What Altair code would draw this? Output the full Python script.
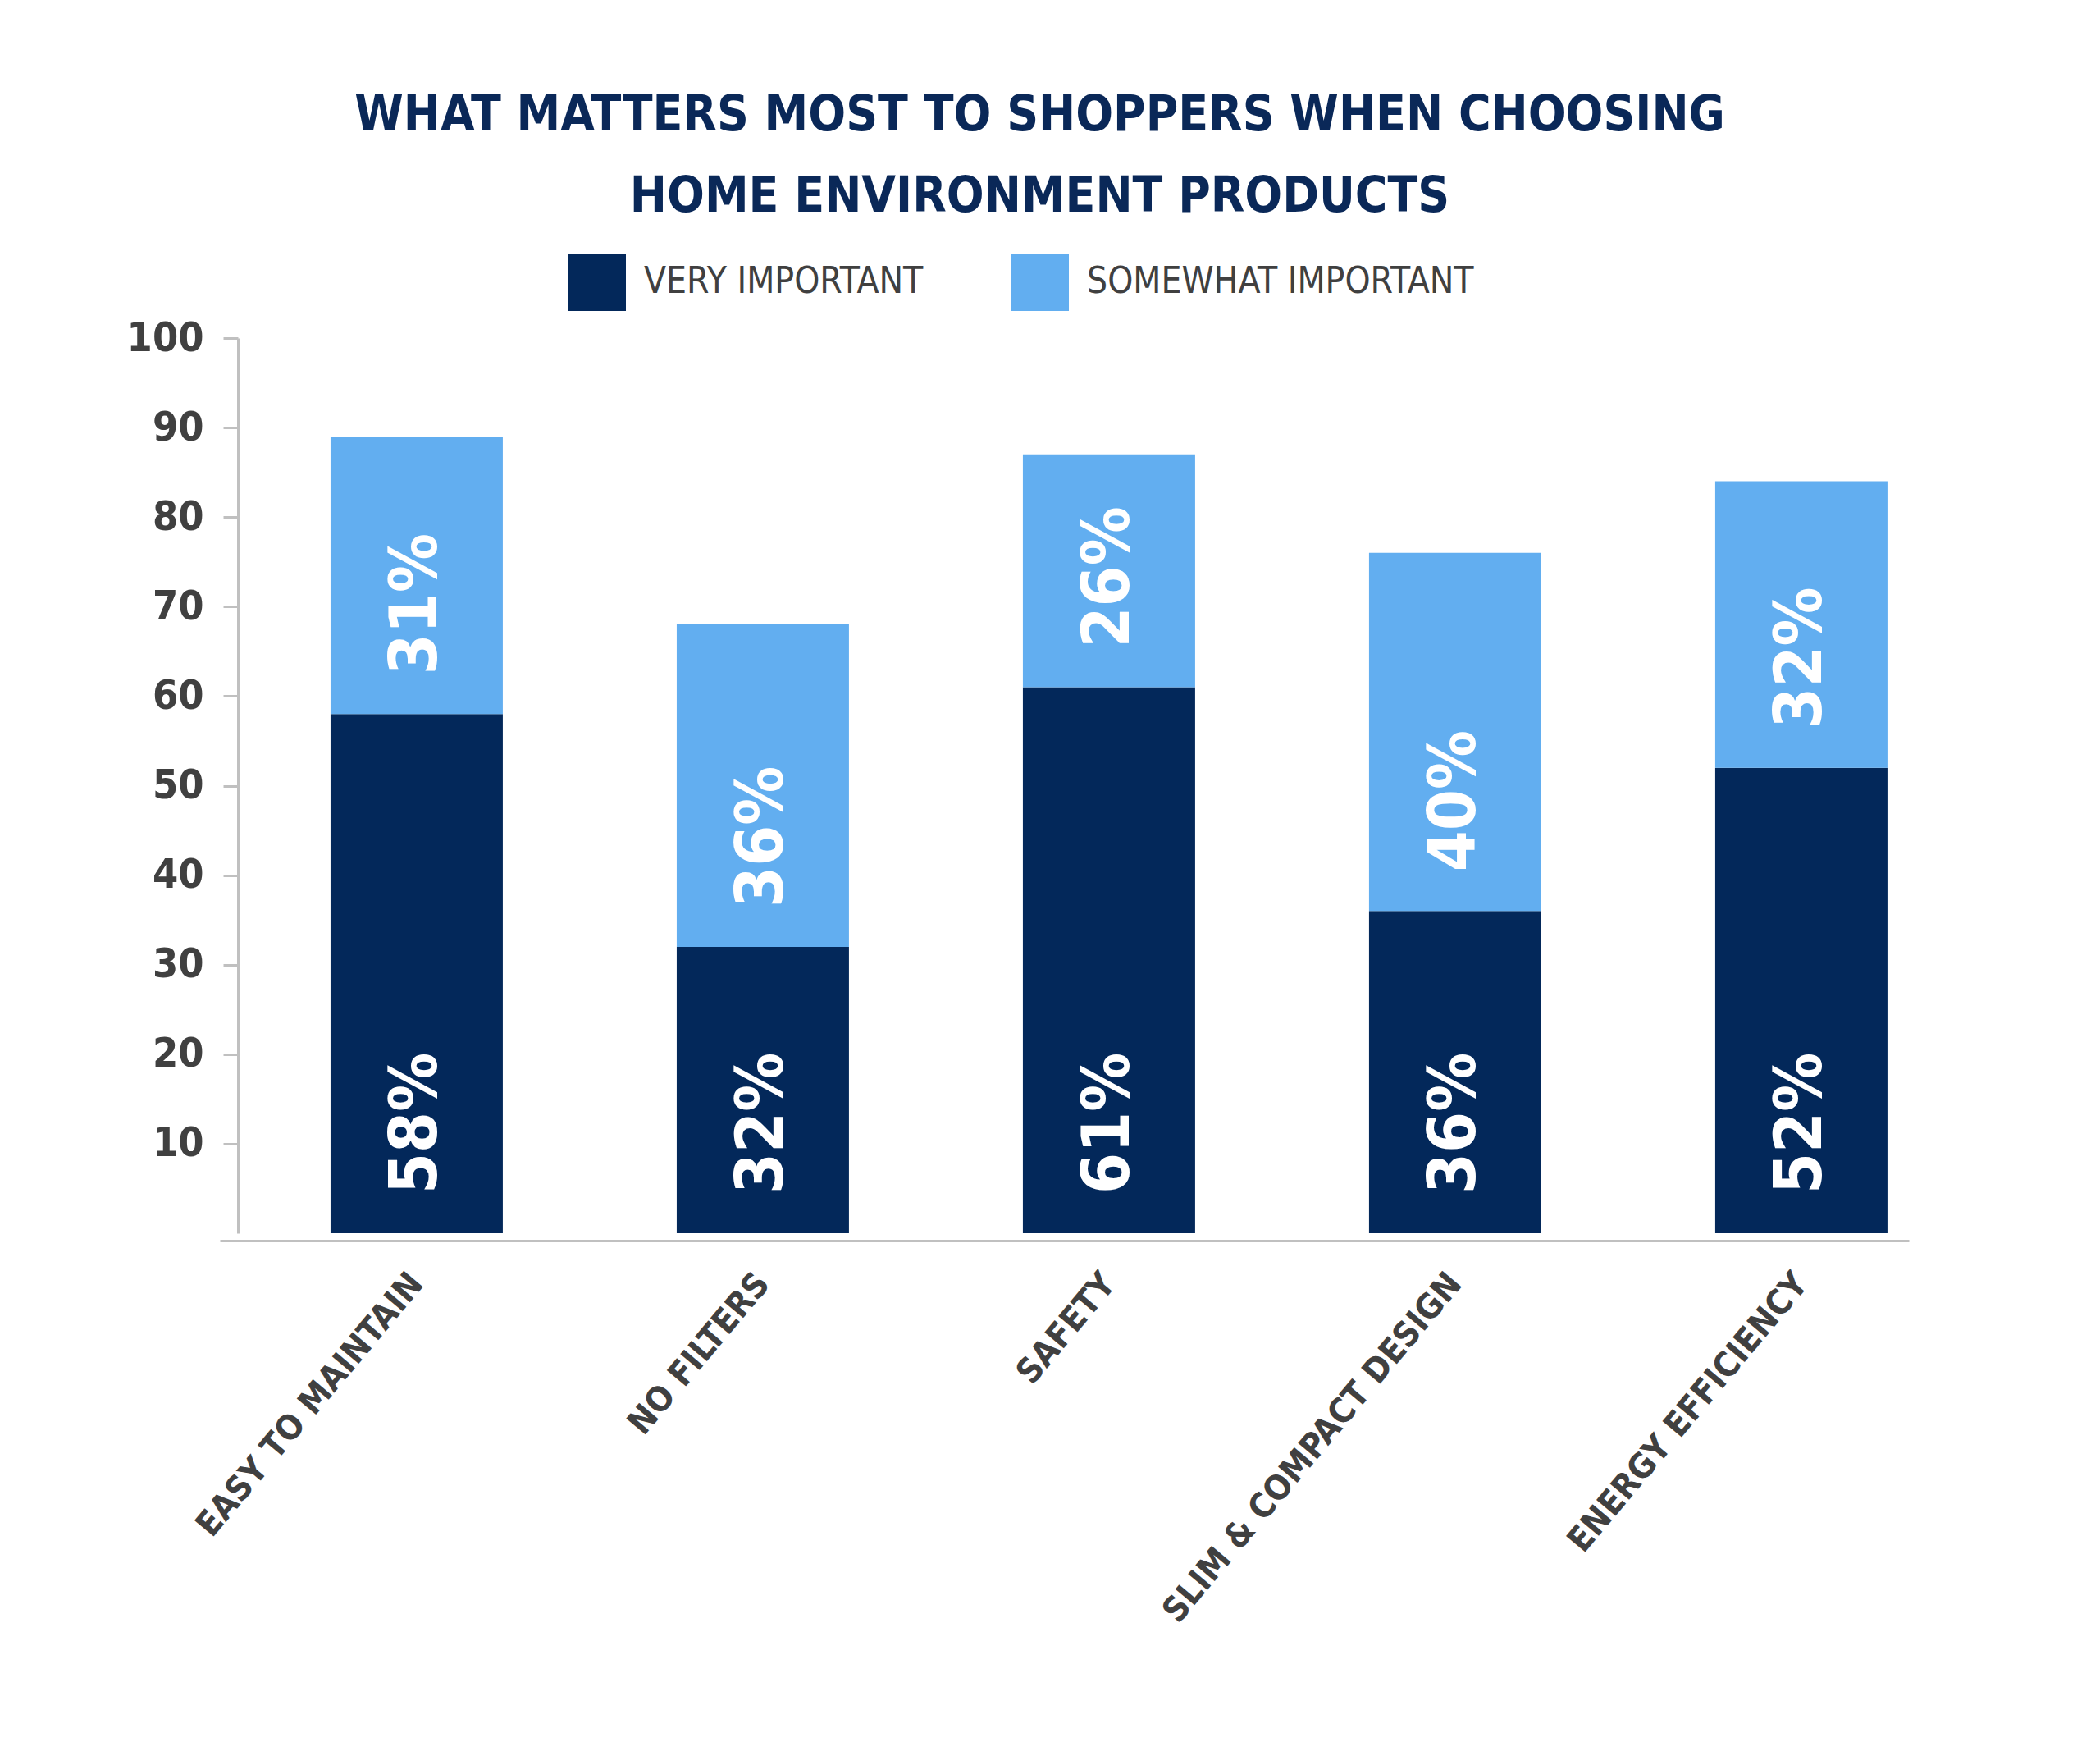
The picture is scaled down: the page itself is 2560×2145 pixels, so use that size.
import altair as alt
import pandas as pd

categories = ["EASY TO MAINTAIN", "NO FILTERS", "SAFETY", "SLIM & COMPACT DESIGN", "ENERGY EFFICIENCY"]
very_important = [58, 32, 61, 36, 52]
somewhat_important = [31, 36, 26, 40, 32]
series_names = ["VERY IMPORTANT", "SOMEWHAT IMPORTANT"]
series_colors = ["#03285a", "#62aef0"]
y_ticks = [10, 20, 30, 40, 50, 60, 70, 80, 90, 100]
title_lines = ["WHAT MATTERS MOST TO SHOPPERS WHEN CHOOSING", "HOME ENVIRONMENT PRODUCTS"]

rows = []
for c, v, s in zip(categories, very_important, somewhat_important):
    rows.append({"category": c, "series": series_names[0], "start": 0, "end": v, "label": f"{v}%"})
    rows.append({"category": c, "series": series_names[1], "start": v, "end": v + s, "label": f"{s}%"})
df = pd.DataFrame(rows)

FONT = "DejaVu Sans Condensed, Liberation Sans Narrow, sans-serif"
GREY = "#404040"
AXIS_GREY = "#c0c0c0"

x = alt.X(
    "category:N",
    sort=categories,
    scale=alt.Scale(paddingInner=0.5024, paddingOuter=0.1908, align=0.838),
    axis=alt.Axis(
        title=None, labelAngle=310, labelAlign="right", labelBaseline="middle",
        labelFont=FONT, labelFontSize=42, labelFontWeight="bold", labelColor=GREY,
        labelPadding=45, labelLimit=1000, ticks=False,
        domainColor=AXIS_GREY, domainWidth=3, offset=9,
    ),
)
y = alt.Y(
    "start:Q",
    scale=alt.Scale(domain=[0, 100], nice=False, zero=True),
    axis=alt.Axis(
        title=None, values=y_ticks, labelFont=FONT, labelFontSize=50,
        labelFontWeight="bold", labelColor=GREY, tickColor=AXIS_GREY, tickWidth=3,
        tickSize=18, labelPadding=24, domainColor=AXIS_GREY, domainWidth=3,
        grid=False, offset=-22,
    ),
)

bars = alt.Chart(df).mark_bar().encode(
    x=x,
    y=y,
    y2="end:Q",
    color=alt.Color(
        "series:N",
        scale=alt.Scale(domain=series_names, range=series_colors),
        legend=alt.Legend(
            title=None, orient="none", legendX=425, legendY=-103,
            direction="horizontal", padding=0, symbolType="square",
            symbolSize=4900, symbolStrokeWidth=0, labelFont=FONT,
            labelFontSize=44, labelColor=GREY, labelOffset=22,
            columnPadding=107, labelLimit=1000,
        ),
    ),
)

labels = alt.Chart(df).mark_text(
    angle=270, align="left", baseline="middle", dx=48,
    font=FONT, fontSize=80, fontWeight="bold", color="white",
).encode(x=x, y=y, text="label:N")

chart = alt.layer(bars, labels).properties(
    width=2059,
    height=1091,
    autosize=alt.AutoSizeParams(type="none"),
    padding={"left": 260, "top": 404, "right": 200, "bottom": 600},
    title=alt.Title(
        text=title_lines, font=FONT, fontSize=60, fontWeight="bold",
        color="#0a2858", lineHeight=99, anchor="middle", offset=38, dx=-30,
    ),
).configure_view(stroke=None)

chart.save("out.html", embed_options={"renderer": "svg", "actions": False})
